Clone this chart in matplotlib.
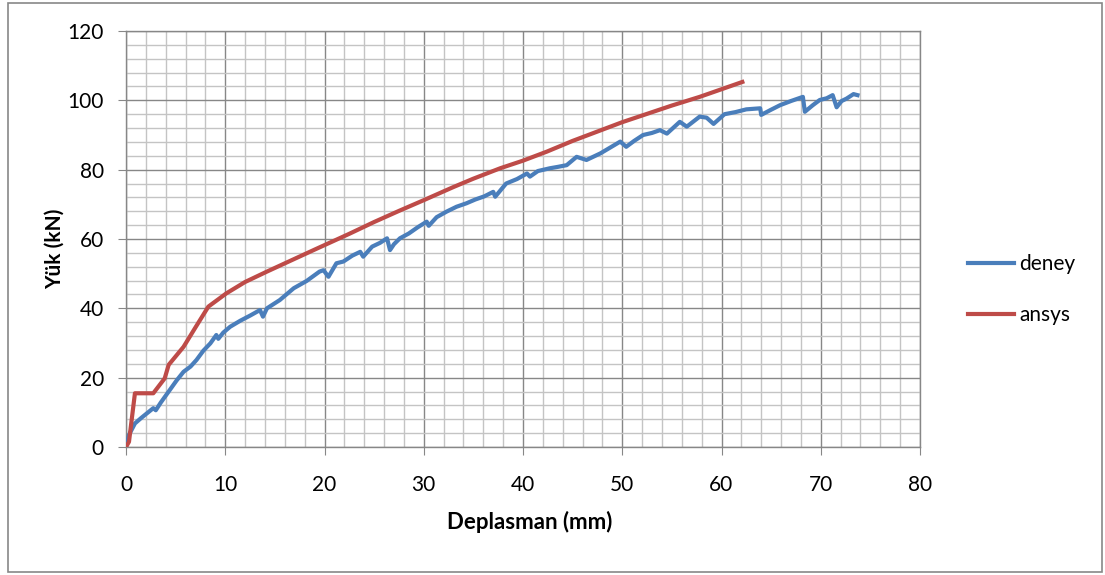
"""Load-displacement curve: test (deney) versus ANSYS model."""

import matplotlib

matplotlib.use("Agg")
import matplotlib.pyplot as plt
from matplotlib.patches import Rectangle
from matplotlib.ticker import MultipleLocator

# deney (test) curve
deney_x = [
	0, 0.3, 0.9, 1.5, 2.1, 2.75, 3.0, 3.5, 4.4, 5.1, 5.8, 6.5, 7.1, 7.8, 8.5,
	9.1, 9.3, 9.8, 10.5, 11.5, 12.5, 13.5, 13.8, 14.2, 15.5, 16.9, 18.2, 19.5,
	19.9, 20.4, 21.2, 21.9, 22.8, 23.6, 23.9, 24.8, 25.6, 26.3, 26.6, 27.0,
	27.6, 28.5, 29.4, 30.3, 30.5, 31.3, 32.3, 33.3, 34.3, 35.2, 36.1, 37.0,
	37.2, 38.3, 39.4, 40.4, 40.7, 41.5, 42.7, 43.5, 44.4, 45.4, 46.4, 47.8,
	48.8, 49.8, 50.4, 51.2, 52.1, 53.0, 53.8, 54.5, 55.8, 56.5, 57.8, 58.5,
	59.2, 60.3, 61.4, 62.5, 63.9, 64.0, 65.0, 65.9, 67.0, 68.2, 68.4, 69.2,
	69.9, 70.6, 71.2, 71.6, 72.1, 72.6, 73.3, 73.7,
]
deney_y = [
	0, 3.5, 6.8, 8.3, 9.7, 11.2, 10.6, 12.8, 16.4, 19.2, 21.7, 23.2, 25.1, 27.8,
	29.9, 32.3, 31.2, 33.0, 34.7, 36.4, 37.9, 39.5, 37.6, 40.0, 42.4, 45.8,
	47.9, 50.6, 51.0, 49.1, 53.0, 53.5, 55.2, 56.3, 54.9, 57.8, 58.9, 60.2,
	56.8, 58.5, 60.2, 61.6, 63.4, 65.0, 63.8, 66.3, 67.9, 69.3, 70.3, 71.4,
	72.3, 73.6, 72.2, 76.0, 77.3, 78.9, 78.0, 79.6, 80.4, 80.8, 81.3, 83.7,
	82.8, 84.7, 86.4, 88.1, 86.6, 88.3, 90.0, 90.6, 91.4, 90.4, 93.8, 92.4,
	95.3, 95.0, 93.2, 96.0, 96.6, 97.4, 97.7, 95.8, 97.3, 98.6, 99.8, 101.0,
	96.7, 98.6, 100.1, 100.6, 101.5, 98.0, 99.8, 100.5, 101.8, 101.5,
]

# ansys (model) curve
ansys_x = [
	0, 0.3, 0.9, 2.75, 3.9, 4.3, 5.8, 7.0, 8.3, 10.1, 12.0, 14.2, 18.9, 22.5,
	25.0, 27.5, 30.0, 33.0, 35.0, 37.7, 40.0, 42.4, 45.0, 50.0, 55.0, 57.8, 62.1,
]
ansys_y = [
	0, 1.5, 15.5, 15.5, 19.8, 23.7, 28.9, 34.5, 40.5, 44.3, 47.6, 50.6, 56.8,
	61.5, 64.9, 68.1, 71.2, 75.0, 77.4, 80.4, 82.6, 85.2, 88.3, 93.7, 98.5,
	101.0, 105.3,
]

plt.rcParams["font.family"] = ["Lato", "DejaVu Sans"]

major_grey = "#878787"
minor_grey = "#c4c4c4"

figure = plt.figure(figsize=(11.05, 5.75), dpi=100)
axis = figure.add_axes([126 / 1105, 1 - 447 / 575, 794 / 1105, 416 / 575])

axis.plot(deney_x, deney_y, color="#4a7ebb", linewidth=3.0, label="deney", zorder=3)
axis.plot(ansys_x, ansys_y, color="#be4b48", linewidth=3.0, label="ansys", zorder=3)

axis.set_xlim(0, 80)
axis.set_ylim(0, 120)
axis.xaxis.set_major_locator(MultipleLocator(10))
axis.xaxis.set_minor_locator(MultipleLocator(2))
axis.yaxis.set_major_locator(MultipleLocator(20))
axis.yaxis.set_minor_locator(MultipleLocator(4))
axis.grid(which="major", color=major_grey, linewidth=1.0)
axis.grid(which="minor", color=minor_grey, linewidth=1.0)
axis.set_axisbelow(True)

for spine in axis.spines.values():
	spine.set_color(major_grey)
	spine.set_linewidth(1.0)

axis.tick_params(which="major", length=6, color=major_grey, labelsize=15)
axis.tick_params(axis="x", which="major", pad=14)
axis.tick_params(axis="y", which="major", pad=10)
axis.tick_params(which="minor", length=0)

axis.set_xlabel("Deplasman (mm)", fontsize=16, fontweight="bold", va="center")
axis.set_ylabel("Yük (kN)", fontsize=15, fontweight="bold", va="center")
axis.xaxis.set_label_coords((530 - 126) / 794, -(522 - 447) / 416)
axis.yaxis.set_label_coords(-(126 - 55) / 794, (447 - 249) / 416)

figure.legend(
	loc="upper left",
	bbox_to_anchor=(968 / 1105, 1 - 254 / 575),
	frameon=False,
	fontsize=15,
	handlelength=2.2,
	handletextpad=0.25,
	labelspacing=1.5,
	borderpad=0,
	borderaxespad=0,
)

figure.patches.append(
	Rectangle(
		(8 / 1105, 3 / 575),
		1094 / 1105,
		569 / 575,
		transform=figure.transFigure,
		fill=False,
		edgecolor=major_grey,
		linewidth=1.2,
	)
)

figure.savefig("out.png", dpi=100)
plt.close(figure)
